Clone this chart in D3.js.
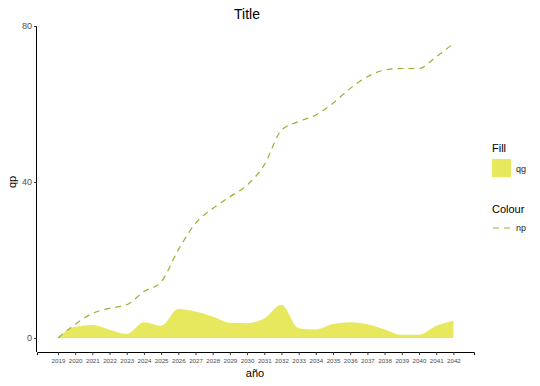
<!DOCTYPE html>
<html>
<head>
<meta charset="utf-8">
<script src="https://cdn.jsdelivr.net/npm/d3@7"></script>
<style>
  body { margin: 0; background: #fff; }
  text { font-family: "Liberation Sans", Arial, sans-serif; }
</style>
</head>
<body>
<svg></svg>
<script>
var years = [2019,2020,2021,2022,2023,2024,2025,2026,2027,2028,2029,2030,
             2031,2032,2033,2034,2035,2036,2037,2038,2039,2040,2041,2042];
var qg = [0,2.9,3.3,2.1,1.0,4.0,3.1,7.4,6.8,5.5,3.9,3.8,
          5.0,8.5,2.5,2.2,3.6,4.0,3.5,2.2,0.8,0.8,3.1,4.4];
var np = [0,3.5,6.3,7.6,8.5,11.9,14.4,22.6,29.4,33.2,36.2,39.2,
          44.4,53.3,55.5,57.2,60.2,64.0,67.0,68.7,69.1,69.1,72.1,75.5];
var yTicks = [0,40,80];

var drawGraph = function()
{
  var screen = {width:540, height:386};
  var svg = d3.select("svg")
              .attr("width",screen.width)
              .attr("height",screen.height);

  var panel = {left:37, right:474, top:26, bottom:352};

  var xScale = d3.scaleLinear()
                 .domain([2017.78, 2043.2])
                 .range([panel.left, panel.right]);
  var yScale = d3.scaleLinear()
                 .domain([-3.6, 80])
                 .range([panel.bottom, panel.top]);

  var fillCol = "#e8e85e";
  var lineCol = "#9cb030";

  var data = years.map(function(y,i){ return {year:y, qg:qg[i], np:np[i]}; });

  var area = d3.area()
               .x(function(d){ return xScale(d.year); })
               .y0(yScale(0))
               .y1(function(d){ return yScale(d.qg); })
               .curve(d3.curveMonotoneX);
  svg.append("path")
     .datum(data)
     .attr("d",area)
     .attr("fill",fillCol);

  var line = d3.line()
               .x(function(d){ return xScale(d.year); })
               .y(function(d){ return yScale(d.np); })
               .curve(d3.curveMonotoneX);
  svg.append("path")
     .datum(data)
     .attr("d",line)
     .attr("fill","none")
     .attr("stroke",lineCol)
     .attr("stroke-width",1.2)
     .attr("stroke-dasharray","6,5");

  // axes
  var xAxis = svg.append("g")
                 .attr("transform","translate(0,"+panel.bottom+")")
                 .call(d3.axisBottom(xScale).tickValues(years).tickFormat(d3.format("d"))
                       .tickSize(3).tickPadding(4));
  xAxis.select(".domain").attr("stroke","#000").attr("stroke-width",1);
  xAxis.selectAll(".tick line").attr("stroke","#333");
  xAxis.selectAll("text").attr("fill","#4d4d4d").attr("font-size",6.2);

  var yAxis = svg.append("g")
                 .attr("transform","translate("+panel.left+",0)")
                 .call(d3.axisLeft(yScale).tickValues(yTicks).tickSize(3).tickPadding(2));
  yAxis.select(".domain").attr("stroke","#000").attr("stroke-width",1)
       .attr("d","M-0.5,"+panel.top+"V"+panel.bottom);
  yAxis.selectAll(".tick line").attr("stroke","#333");
  yAxis.selectAll("text").attr("fill","#4d4d4d").attr("font-size",9);

  // titles
  svg.append("text").attr("x",247).attr("y",19).attr("text-anchor","middle")
     .attr("font-size",14).text("Title");
  svg.append("text").attr("x",255).attr("y",377).attr("text-anchor","middle")
     .attr("font-size",11).text("año");
  svg.append("text").attr("transform","translate(16,"+yScale(40)+") rotate(-90)")
     .attr("text-anchor","middle").attr("font-size",11).text("qp");

  // legend
  var lg = svg.append("g").attr("transform","translate(492,0)");
  lg.append("text").attr("x",0).attr("y",152).attr("font-size",11).text("Fill");
  lg.append("rect").attr("x",0).attr("y",159).attr("width",19).attr("height",18)
    .attr("fill",fillCol);
  lg.append("text").attr("x",24).attr("y",172).attr("font-size",9).attr("fill","#222").text("qg");
  lg.append("text").attr("x",0).attr("y",213).attr("font-size",11).text("Colour");
  lg.append("line").attr("x1",1).attr("x2",18).attr("y1",228).attr("y2",228)
    .attr("stroke",lineCol).attr("stroke-width",1.2).attr("stroke-dasharray","6,5");
  lg.append("text").attr("x",24).attr("y",231).attr("font-size",9).attr("fill","#222").text("np");
};

drawGraph();
</script>
</body>
</html>
